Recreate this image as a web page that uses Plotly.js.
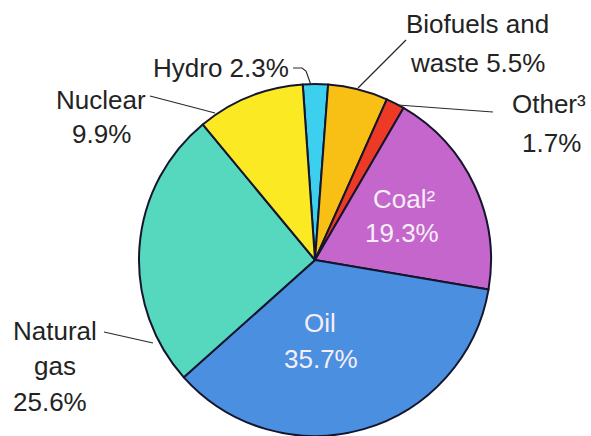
<!DOCTYPE html>
<html>
<head>
<meta charset="utf-8">
<script src="https://cdn.plot.ly/plotly-3.0.1.min.js"></script>
<style>html,body{margin:0;padding:0;background:#fff;}#chart{width:591px;height:436px;}</style>
</head>
<body>
<div id="chart"></div>
<script>
// Data (clockwise from the top)
const sources = ['Hydro', 'Biofuels and waste', 'Other', 'Coal', 'Oil', 'Natural gas', 'Nuclear'];
const shares = [2.3, 5.5, 1.7, 19.3, 35.7, 25.6, 9.9];
const labelLines = {
  'Hydro': ['Hydro 2.3%'],
  'Biofuels and waste': ['Biofuels and', 'waste 5.5%'],
  'Other': ['Other³', '1.7%'],
  'Coal': ['Coal²', '19.3%'],
  'Oil': ['Oil', '35.7%'],
  'Natural gas': ['Natural', 'gas', '25.6%'],
  'Nuclear': ['Nuclear', '9.9%']
};

// Styles
const colors = ['#3ccfee', '#f8bf14', '#ec3a26', '#c566cc', '#4b8fe0', '#55d8bd', '#fbe924'];
const W = 591, H = 436;
const px = x => x / W;
const py = y => 1 - y / H;
const font = {family: '"Liberation Sans", Arial, sans-serif', size: 26, color: '#232323'};
const whiteFont = Object.assign({}, font, {color: '#f6eef8'});

// label line placements (pixel centres)
const linePos = {
  'Hydro': [[221, 68]],
  'Biofuels and waste': [[478, 24], [477, 63]],
  'Other': [[549, 104], [551, 143]],
  'Coal': [[404, 199], [402, 233]],
  'Oil': [[320, 323], [321, 359]],
  'Natural gas': [[55, 331], [55, 366], [50, 402]],
  'Nuclear': [[101, 100], [101, 134]]
};
const inside = {'Coal': true, 'Oil': true};

const annotations = [];
sources.forEach(s => {
  labelLines[s].forEach((t, i) => {
    const p = linePos[s][i];
    annotations.push({
      text: t, x: px(p[0]), y: py(p[1]), xref: 'paper', yref: 'paper',
      xanchor: 'center', yanchor: 'middle', showarrow: false,
      font: inside[s] ? whiteFont : font
    });
  });
});

// leader lines (pixel paths)
const leaders = [
  [[293, 68], [302, 68], [306, 71], [311, 85]],
  [[406, 40], [358, 88]],
  [[493, 112], [398, 105]],
  [[150, 96], [215, 113]],
  [[104, 332], [153, 343]]
];
const shapes = leaders.map(pts => ({
  type: 'path', xref: 'paper', yref: 'paper',
  path: pts.map((p, i) => (i ? 'L' : 'M') + px(p[0]) + ',' + py(p[1])).join(' '),
  line: {color: '#2a2a2a', width: 1.2}
}));

const trace = {
  type: 'pie',
  labels: sources,
  values: shares,
  sort: false,
  direction: 'clockwise',
  rotation: -4,
  textinfo: 'none',
  hoverinfo: 'label+percent',
  showlegend: false,
  marker: {colors: colors, line: {color: '#15152e', width: 2}},
  domain: {x: [139 / W, 491 / W], y: [0, 1 - 84 / H]}
};

const layout = {
  width: W, height: H,
  margin: {l: 0, r: 0, t: 0, b: 0},
  paper_bgcolor: '#ffffff',
  showlegend: false,
  annotations: annotations,
  shapes: shapes
};

Plotly.newPlot('chart', [trace], layout, {displayModeBar: false, staticPlot: true});
</script>
</body>
</html>
